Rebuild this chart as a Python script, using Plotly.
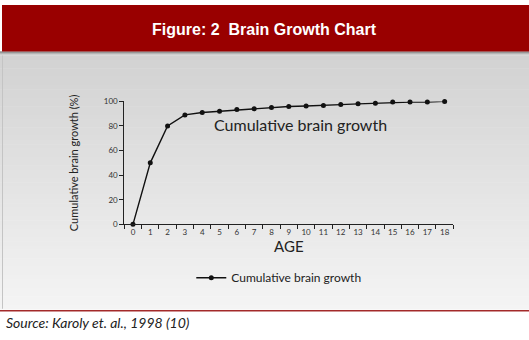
import plotly.graph_objects as go

# Cumulative brain growth (%) by age in years
ages = list(range(19))
age_labels = [str(a) for a in ages]
growth = [0, 50, 80, 89, 91, 92, 93.3, 94, 95, 95.8, 96.3, 96.6, 97.4, 98, 98.4, 99.4, 99.4, 99.4, 100]
y_ticks = [0, 20, 40, 60, 80, 100]

W, H = 529, 340
FONT = "Lato"

fig = go.Figure()
fig.add_trace(go.Scatter(
    x=age_labels, y=growth, mode="lines+markers",
    name="Cumulative brain growth",
    line=dict(color="#111111", width=1.4),
    marker=dict(color="#111111", size=5),
    cliponaxis=False,
))

def py(px):
    return 1 - px / H

shapes = []
# gradient panel behind the chart
top, bot = 52, 313
n = 60
c0, c1 = 210, 244
for i in range(n):
    y0 = top + (bot - top) * i / n
    y1 = top + (bot - top) * (i + 1) / n + 0.6
    v = round(c0 + (c1 - c0) * i / (n - 1))
    shapes.append(dict(type="rect", xref="paper", yref="paper", layer="below",
                       x0=0, x1=1, y0=py(y1), y1=py(y0),
                       fillcolor=f"rgb({v},{v},{v})", line=dict(width=0)))
# shadow under the title bar
for i, v in enumerate([90, 130, 170, 200]):
    shapes.append(dict(type="rect", xref="paper", yref="paper", layer="below",
                       x0=0, x1=1, y0=py(48 + i + 1), y1=py(48 + i),
                       fillcolor=f"rgb({v},{v},{v})", line=dict(width=0)))
# title bar
shapes.append(dict(type="rect", xref="paper", yref="paper", layer="below",
                   x0=2 / W, x1=1, y0=py(48), y1=1,
                   fillcolor="#990000", line=dict(width=0)))
# left edge of the panel
shapes.append(dict(type="line", xref="paper", yref="paper", layer="below",
                   x0=2.5 / W, x1=2.5 / W, y0=py(313), y1=py(52),
                   line=dict(color="#c4c4c4", width=1)))
# red rule above the source line
shapes.append(dict(type="line", xref="paper", yref="paper", layer="below",
                   x0=0, x1=1, y0=py(315), y1=py(315),
                   line=dict(color="#a32a2a", width=1.5)))

annotations = [
    dict(text="<b>Figure: 2  Brain Growth Chart</b>", xref="paper", yref="paper",
         x=0.5, y=py(25), xanchor="center", yanchor="middle", showarrow=False,
         font=dict(family="Liberation Sans", size=16, color="white")),
    dict(text="Cumulative brain growth", xref="x", yref="y",
         x=9.65, y=81, xanchor="center", yanchor="middle", showarrow=False,
         font=dict(family=FONT, size=16, color="#222222")),
    dict(text="<i>Source: Karoly et. al., 1998 (10)</i>", xref="paper", yref="paper",
         x=4 / W, y=py(327), xanchor="left", yanchor="middle", showarrow=False,
         font=dict(family=FONT, size=14, color="#222222")),
]

fig.update_layout(
    width=W, height=H,
    margin=dict(l=0, r=0, t=0, b=0),
    paper_bgcolor="white",
    plot_bgcolor="rgba(0,0,0,0)",
    font=dict(family=FONT, color="#222222"),
    shapes=shapes,
    annotations=annotations,
    showlegend=True,
    legend=dict(orientation="h", x=0.527, y=py(281), xanchor="center", yanchor="middle",
                bgcolor="rgba(0,0,0,0)", font=dict(family=FONT, size=12, color="#222222"),
                itemwidth=30),
    xaxis=dict(
        type="category", domain=[124.3 / W, 453.3 / W], range=[-0.5, 18.5],
        tickson="boundaries", ticks="outside", ticklen=4, tickcolor="#222222",
        tickangle=0,
        showline=True, linecolor="#222222", linewidth=1, showgrid=False, zeroline=False,
        tickfont=dict(size=8, color="#333333"),
        title=dict(text="AGE", font=dict(size=15, color="#222222"), standoff=4),
    ),
    yaxis=dict(
        domain=[py(226), py(99.3)], range=[0, 100],
        tickvals=y_ticks, ticks="outside", ticklen=4, tickcolor="#222222",
        showline=True, linecolor="#222222", linewidth=1, showgrid=False, zeroline=False,
        tickfont=dict(size=8, color="#333333"),
        title=dict(text="Cumulative brain growth (%)", font=dict(size=11, color="#222222"),
                   standoff=22),
    ),
)

fig.write_html("out.html")
